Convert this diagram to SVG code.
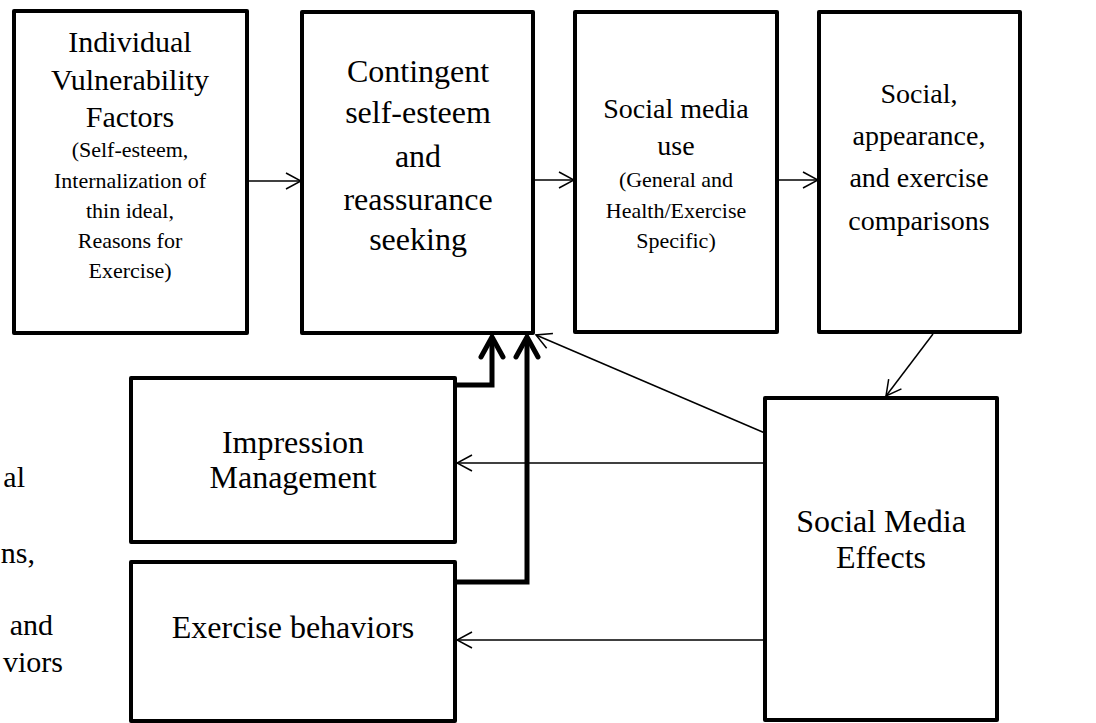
<svg xmlns="http://www.w3.org/2000/svg" width="1096" height="723" viewBox="0 0 1096 723">
<defs>
<style>
.box{fill:#fff;stroke:#000;stroke-width:4;stroke-linejoin:round}
text{font-family:'Liberation Serif','Times New Roman',Times,'DejaVu Serif',serif;fill:#000}
.t{text-anchor:middle}
.big{font-size:30px}
.b32{font-size:32px}
.b28{font-size:28px}
.sm{font-size:22px}
.thin{fill:none;stroke:#000;stroke-width:1.5}
.thick{fill:none;stroke:#000;stroke-width:5;stroke-linejoin:miter}
.frag{font-size:30px;text-anchor:end}
</style>
<marker id="a" markerUnits="userSpaceOnUse" viewBox="-17 -10 18 20" refX="0" refY="0" markerWidth="18" markerHeight="20" orient="auto">
<path d="M-15,-8 L0,0 L-15,8" fill="none" stroke="#000" stroke-width="1.5"/>
</marker>
<marker id="A" markerUnits="userSpaceOnUse" viewBox="-26 -16 30 32" refX="0" refY="0" markerWidth="30" markerHeight="32" orient="auto">
<path d="M-20,-11 L0,0 L-20,11" fill="none" stroke="#000" stroke-width="5" stroke-linecap="round"/>
</marker>
</defs>
<rect width="1096" height="723" fill="#fff"/>

<g id="fragments" font-family="Liberation Serif, serif">
<text class="frag" x="25" y="487">al</text>
<text class="frag" x="35" y="563">ns,</text>
<text class="frag" x="53" y="635">and</text>
<text class="frag" x="63" y="672">viors</text>
</g>

<g id="connectors">
<line class="thin" x1="247" y1="181" x2="301" y2="181" marker-end="url(#a)"/>
<line class="thin" x1="533" y1="180" x2="574" y2="180" marker-end="url(#a)"/>
<line class="thin" x1="777" y1="180" x2="818" y2="180" marker-end="url(#a)"/>
<line class="thin" x1="933" y1="334" x2="886" y2="396" marker-end="url(#a)"/>
<line class="thin" x1="765" y1="433" x2="536" y2="335" marker-end="url(#a)"/>
<line class="thin" x1="765" y1="463" x2="457" y2="463" marker-end="url(#a)"/>
<line class="thin" x1="765" y1="640" x2="457" y2="640" marker-end="url(#a)"/>
<path class="thick" d="M455,385 H492 V337" marker-end="url(#A)"/>
<path class="thick" d="M455,582 H527 V337" marker-end="url(#A)"/>
</g>

<g id="individual">
<rect class="box" x="14" y="11" width="233" height="322"/>
<text class="t big" x="130" y="52">Individual</text>
<text class="t big" x="130" y="90">Vulnerability</text>
<text class="t big" x="130" y="127">Factors</text>
<text class="t sm" x="130" y="157">(Self-esteem,</text>
<text class="t sm" x="130" y="188">Internalization of</text>
<text class="t sm" x="130" y="218">thin ideal,</text>
<text class="t sm" x="130" y="248">Reasons for</text>
<text class="t sm" x="130" y="278">Exercise)</text>
</g>

<g id="contingent">
<rect class="box" x="302" y="12" width="231" height="321"/>
<text class="t b32" x="418" y="82">Contingent</text>
<text class="t b32" x="418" y="123">self-esteem</text>
<text class="t b32" x="418" y="167">and</text>
<text class="t b32" x="418" y="210">reassurance</text>
<text class="t b32" x="418" y="250">seeking</text>
</g>

<g id="smuse">
<rect class="box" x="575" y="12" width="202" height="320"/>
<text class="t b28" x="676" y="118">Social media</text>
<text class="t b28" x="676" y="155">use</text>
<text class="t sm" x="676" y="187">(General and</text>
<text class="t sm" x="676" y="218">Health/Exercise</text>
<text class="t sm" x="676" y="248">Specific)</text>
</g>

<g id="comparisons">
<rect class="box" x="819" y="12" width="201" height="320"/>
<text class="t b28" x="919" y="103">Social,</text>
<text class="t b28" x="919" y="145">appearance,</text>
<text class="t b28" x="919" y="187">and exercise</text>
<text class="t b28" x="919" y="230">comparisons</text>
</g>

<g id="effects">
<rect class="box" x="765" y="398" width="232" height="322"/>
<text class="t b32" x="881" y="532">Social Media</text>
<text class="t b32" x="881" y="568">Effects</text>
</g>

<g id="impression">
<rect class="box" x="131" y="378" width="324" height="164"/>
<text class="t b32" x="293" y="453">Impression</text>
<text class="t b32" x="293" y="488">Management</text>
</g>

<g id="exercise">
<rect class="box" x="131" y="562" width="324" height="159"/>
<text class="t b32" x="293" y="638">Exercise behaviors</text>
</g>
</svg>
